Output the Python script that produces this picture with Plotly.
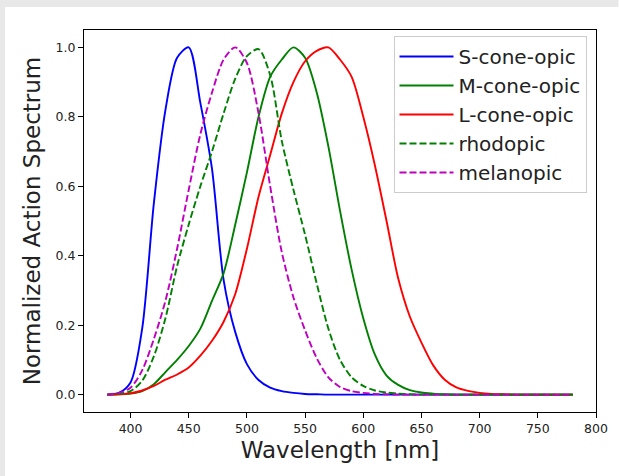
import plotly.graph_objects as go

wavelength = [380, 390, 400, 410, 420, 430, 440, 450, 460, 470,
              480, 490, 500, 510, 520, 530, 540, 550, 560, 570,
              580, 590, 600, 610, 620, 630, 640, 650, 660, 670,
              680, 690, 700, 710, 720, 730, 740, 750, 760, 770, 780]

s_cone = [0.0, 0.005, 0.035, 0.19, 0.55, 0.82, 0.97, 1.0, 0.84, 0.65,
          0.33, 0.18, 0.088, 0.042, 0.02, 0.01, 0.005, 0.002, 0.001, 0.0,
          0.0, 0.0, 0.0, 0.0, 0.0, 0.0, 0.0, 0.0, 0.0, 0.0,
          0.0, 0.0, 0.0, 0.0, 0.0, 0.0, 0.0, 0.0, 0.0, 0.0, 0.0]

m_cone = [0.0, 0.001, 0.003, 0.01, 0.03, 0.065, 0.1, 0.14, 0.19, 0.27,
          0.35, 0.49, 0.64, 0.8, 0.915, 0.965, 1.0, 0.97, 0.87, 0.715,
          0.53, 0.36, 0.22, 0.115, 0.055, 0.028, 0.013, 0.006, 0.003, 0.001,
          0.0, 0.0, 0.0, 0.0, 0.0, 0.0, 0.0, 0.0, 0.0, 0.0, 0.0]

l_cone = [0.0, 0.001, 0.004, 0.012, 0.025, 0.043, 0.058, 0.078, 0.112, 0.155,
          0.21, 0.29, 0.42, 0.57, 0.69, 0.81, 0.9, 0.96, 0.99, 1.0,
          0.965, 0.915, 0.8, 0.66, 0.5, 0.335, 0.225, 0.15, 0.085, 0.043,
          0.021, 0.011, 0.005, 0.002, 0.001, 0.0, 0.0, 0.0, 0.0, 0.0, 0.0]

rhodopic = [0.0, 0.003, 0.01, 0.04, 0.11, 0.22, 0.37, 0.49, 0.6, 0.7,
            0.81, 0.91, 0.975, 0.995, 0.92, 0.73, 0.59, 0.46, 0.32, 0.19,
            0.1, 0.05, 0.025, 0.012, 0.006, 0.003, 0.001, 0.0, 0.0, 0.0,
            0.0, 0.0, 0.0, 0.0, 0.0, 0.0, 0.0, 0.0, 0.0, 0.0, 0.0]

melanopic = [0.0, 0.005, 0.02, 0.07, 0.16, 0.27, 0.42, 0.59, 0.75, 0.87,
             0.965, 1.0, 0.955, 0.81, 0.6, 0.41, 0.28, 0.185, 0.105, 0.05,
             0.022, 0.01, 0.005, 0.002, 0.001, 0.0, 0.0, 0.0, 0.0, 0.0,
             0.0, 0.0, 0.0, 0.0, 0.0, 0.0, 0.0, 0.0, 0.0, 0.0, 0.0]

series = [
    ("S-cone-opic", s_cone, "#0000ff", "solid"),
    ("M-cone-opic", m_cone, "#008000", "solid"),
    ("L-cone-opic", l_cone, "#ff0000", "solid"),
    ("rhodopic", rhodopic, "#008000", "7px,3px"),
    ("melanopic", melanopic, "#bf00bf", "7px,3px"),
]

x_ticks = [400, 450, 500, 550, 600, 650, 700, 750, 800]
y_ticks = [0.0, 0.2, 0.4, 0.6, 0.8, 1.0]

fig = go.Figure()
for name, vals, color, dash in series:
    fig.add_trace(go.Scatter(
        x=wavelength, y=vals, mode="lines", name=name, legendgroup=name,
        line=dict(color=color, width=1.9, dash=dash, shape="spline", smoothing=0.8),
    ))

axis_common = dict(
    showgrid=False, zeroline=False, showline=True, linecolor="black", linewidth=1,
    mirror=True, ticks="outside", ticklen=5, tickcolor="black", tickwidth=1,
    automargin=False,
    tickfont=dict(family="DejaVu Sans", size=12.5, color="#222222"),
)

L, R, T, B = 84, 619 - 596.5, 30, 476 - 412
PW, PH = 619 - L - R, 476 - T - B

fig.update_layout(
    width=619, height=476,
    margin=dict(l=L, r=R, t=T, b=B, pad=0),
    paper_bgcolor="white", plot_bgcolor="white",
    font=dict(family="DejaVu Sans", color="#222222"),
    xaxis=dict(range=[360, 800], tickvals=x_ticks, ticktext=[str(v) for v in x_ticks],
               title=dict(text="Wavelength [nm]", font=dict(size=23, color="#222222"), standoff=6),
               **axis_common),
    yaxis=dict(range=[-0.05, 1.05], tickvals=y_ticks, ticktext=[f"{v:.1f}" for v in y_ticks],
               title=dict(text="Normalized Action Spectrum", font=dict(size=23, color="#222222"), standoff=8),
               **axis_common),
    legend=dict(x=(587 - L) / PW, y=(412 - 36) / PH, xanchor="right", yanchor="top",
                bgcolor="white", bordercolor="#cccccc", borderwidth=1,
                font=dict(size=20, color="#222222"), tracegroupgap=5,
                itemwidth=54, traceorder="normal"),
    showlegend=True,
)

# light grey frame along the top and left edges of the picture
fig.add_shape(type="rect", xref="paper", yref="paper",
              x0=-L / PW, x1=(619 - L) / PW, y0=(412 - 7) / PH, y1=412 / PH,
              fillcolor="#e8e8e8", line=dict(width=0), layer="below")
fig.add_shape(type="rect", xref="paper", yref="paper",
              x0=-L / PW, x1=(5 - L) / PW, y0=(412 - 476) / PH, y1=412 / PH,
              fillcolor="#e8e8e8", line=dict(width=0), layer="below")

fig.write_html("out.html", config={"displayModeBar": False},
               post_script="document.body.style.margin='0';document.body.style.overflow='hidden';")
